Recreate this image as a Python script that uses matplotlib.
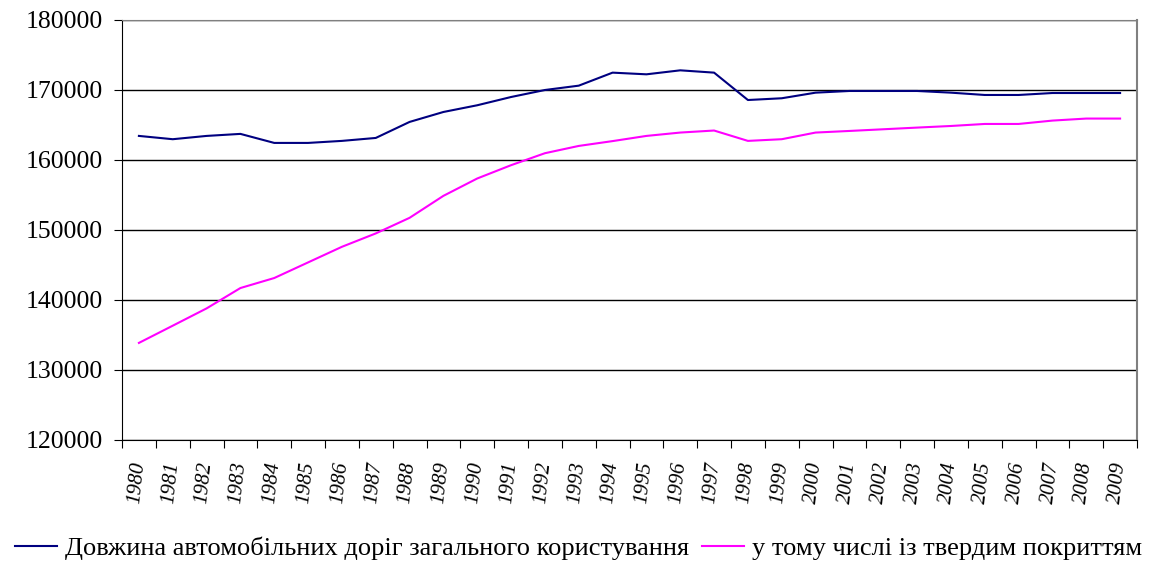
import numpy as np
import matplotlib.pyplot as plt

years = [str(y) for y in range(1980, 2010)]

total = [163440, 162970, 163440, 163730, 162440, 162440, 162730, 163150, 165440, 166860,
         167820, 169000, 170000, 170620, 172480, 172240, 172810, 172480, 168570, 168820,
         169620, 169860, 169860, 169860, 169620, 169290, 169290, 169570, 169570, 169570]

paved = [133870, 136330, 138800, 141710, 143140, 145370, 147600, 149510, 151740, 154880,
         157360, 159260, 160970, 162010, 162700, 163440, 163920, 164210, 162730, 162970,
         163920, 164150, 164390, 164630, 164860, 165150, 165150, 165630, 165920, 165920]

label_total = "Довжина автомобільних доріг загального користування"
label_paved = "у тому числі із твердим покриттям"

plt.rcParams['font.family'] = ['Liberation Serif', 'DejaVu Serif']

fig = plt.figure(figsize=(11.57, 5.69), dpi=100)
ax = fig.add_axes([122/1157, 1 - 440/569, 1015/1157, 420/569])

x = np.arange(len(years))
ax.plot(x, total, color='#000080', lw=1.5, label=label_total)
ax.plot(x, paved, color='#FF00FF', lw=1.5, label=label_paved)

ax.set_xlim(-0.5, len(years) - 0.5)
ax.set_ylim(120000, 180000)
ax.set_yticks(np.arange(120000, 180001, 10000))
ax.yaxis.grid(True, color='black', lw=1)
ax.set_axisbelow(True)

# category boundaries get the tick marks, labels sit in between
ax.set_xticks(np.arange(-0.5, len(years), 1))
ax.set_xticklabels([])
ax.set_xticks(x, minor=True)
ax.set_xticklabels(years, minor=True, rotation=84, fontstyle='italic', fontsize=15,
                   ha='right', va='center', rotation_mode='anchor')
ax.tick_params(axis='x', which='minor', length=0, pad=16)
ax.tick_params(axis='x', which='major', length=6, direction='out', color='black')
ax.tick_params(axis='y', length=6, direction='out', labelsize=18.5, pad=8)

for s in ['left', 'bottom']:
    ax.spines[s].set_color('black')
ax.spines['top'].set_color('#808080')
ax.spines['right'].set_color('#808080')
ax.spines['right'].set_linewidth(1.5)

fig.legend(loc='center', bbox_to_anchor=(0.5, 1 - 548/569), ncol=2, frameon=False,
           fontsize=19, handlelength=1.6, handletextpad=0.3, columnspacing=0.5)

fig.savefig('out.png', dpi=100)
